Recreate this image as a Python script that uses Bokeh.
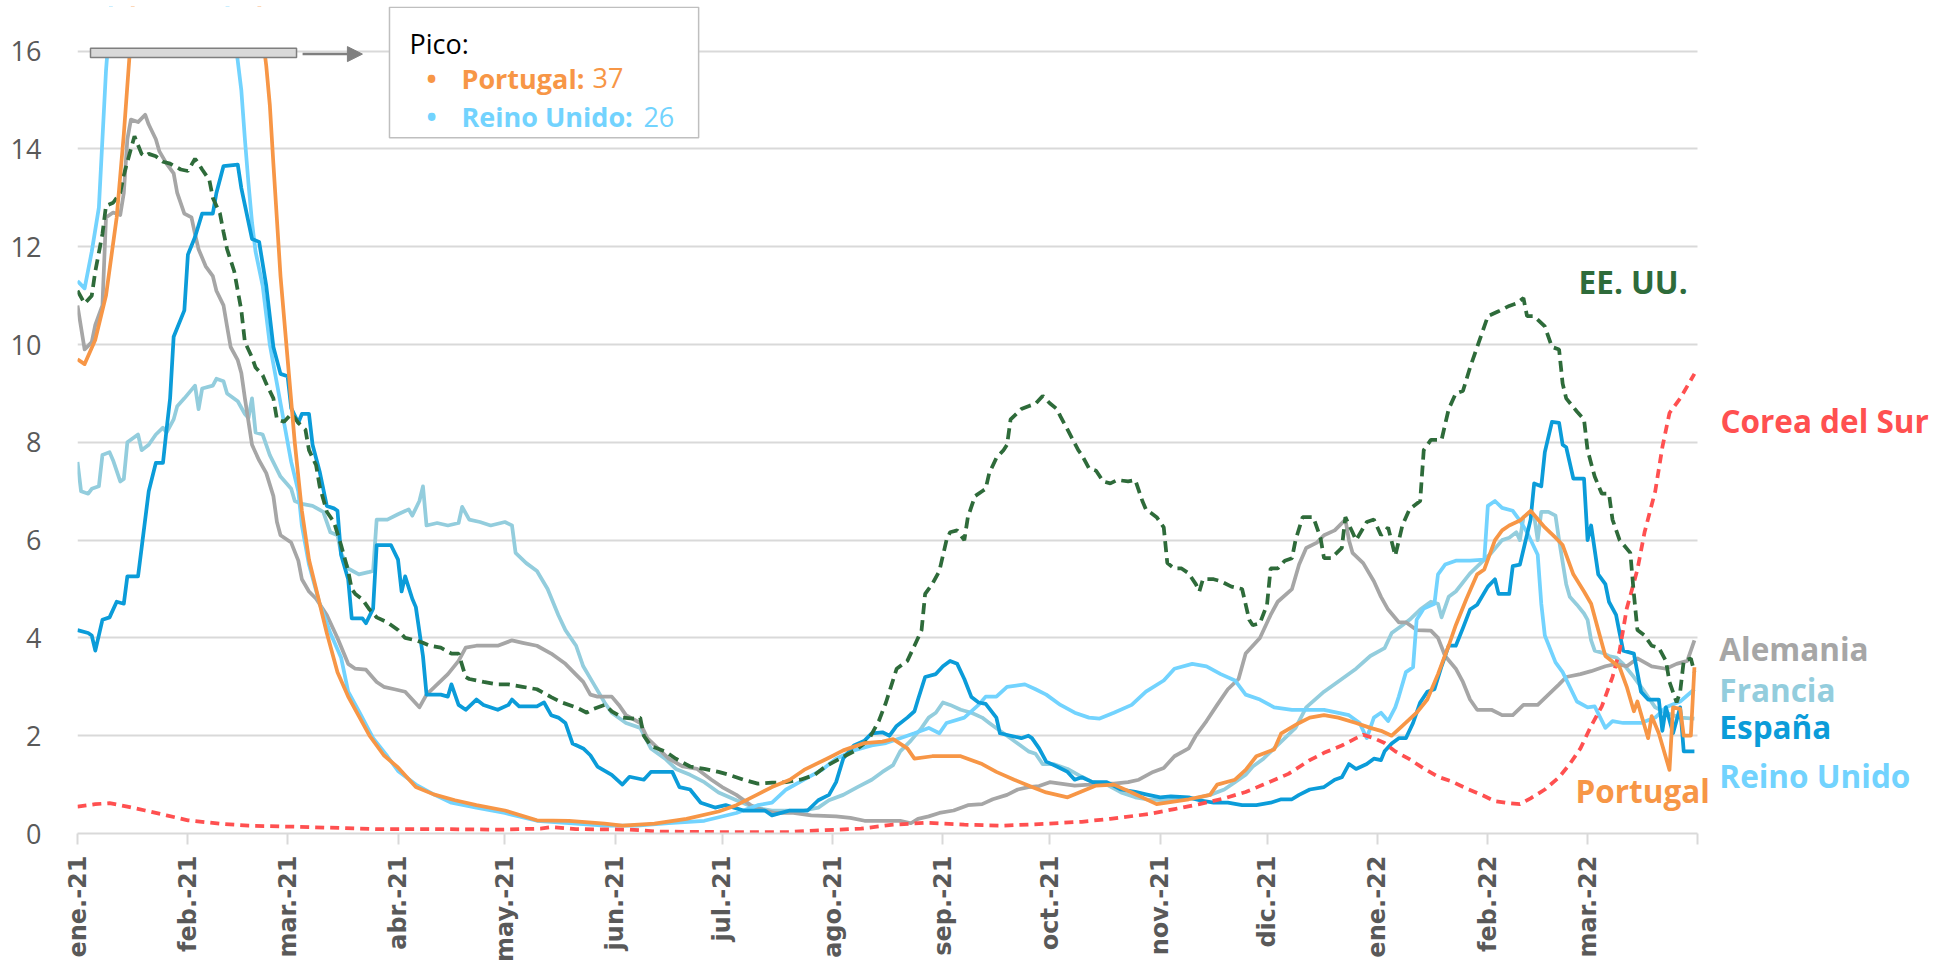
import pandas as pd
from math import pi
from bokeh.plotting import figure
from bokeh.models import Range1d, FixedTicker, Label, BoxAnnotation, Arrow, NormalHead
from bokeh.embed import file_html
from bokeh.resources import INLINE

# ---- data: (days since 1 Jan 2021, deaths per million, 7-day avg) ----
DAY0 = "2021-01-01"

portugal = [(0,9.7),(2,9.6),(5,10.1),(8,11.0),(11,12.6),(13,14.3),(15,16.3),(18,20),(21,26),(25,33),(28,37),(32,35),(36,31),(40,26),(45,21),(50,17.6),(52,16.3),(53,15.7),(54,14.9),(55,13.7),(57,11.4),(59,9.7),(61,8.0),(63,6.6),(65,5.6),(67,5.0),(70,4.1),(73,3.3),(76,2.8),(79,2.4),(82,2.0),(86,1.6),(90,1.35),(95,0.95),(100,0.8),(106,0.68),(112,0.58),(120,0.47),(129,0.27),(138,0.26),(148,0.2),(153,0.16),(162,0.2),(171,0.3),(180,0.45),(185,0.58),(191,0.8),(195,0.95),(200,1.1),(204,1.3),(211,1.55),(215,1.7),(221,1.85),(226,1.88),(229,1.93),(233,1.74),(235,1.53),(240,1.58),(248,1.58),(254,1.42),(258,1.26),(263,1.1),(268,0.95),(272,0.84),(278,0.74),(286,0.98),(291,1.0),(296,0.84),(303,0.6),(312,0.7),(318,0.79),(320,1.0),(325,1.1),(328,1.3),(331,1.58),(336,1.72),(338,2.05),(343,2.26),(346,2.37),(350,2.42),(354,2.37),(359,2.26),(363,2.16),(366,2.1),(369,2.0),(372,2.2),(376,2.47),(379,2.74),(382,3.26),(385,3.84),(387,4.26),(390,4.8),(393,5.3),(395,5.4),(398,6.0),(400,6.2),(402,6.3),(405,6.4),(408,6.6),(412,6.26),(415,6.05),(417,5.9),(420,5.3),(423,4.95),(425,4.7),(427,4.16),(429,3.63),(433,3.4),(435,3.0),(437,2.5),(438,2.7),(441,1.95),(442,2.4),(444,2.05),(447,1.3),(448,2.58),(450,2.55),(451,2.0),(453,2.0),(454,3.4)]

reino_unido = [(0,11.3),(2,11.15),(4,11.9),(6,12.8),(7,14.2),(8,15.6),(10,17.5),(14,22),(18,26),(21,25.5),(25,23.5),(30,21),(35,19),(40,17.5),(44,16.4),(46,15.2),(47,14.2),(48,13.3),(49,12.5),(50,11.9),(52,11.2),(54,10.0),(56,9.2),(58,8.4),(60,7.6),(62,7.0),(63,6.3),(65,5.5),(68,4.7),(71,4.1),(74,3.6),(76,2.9),(79,2.5),(83,1.95),(87,1.58),(90,1.28),(95,1.0),(100,0.8),(105,0.63),(112,0.53),(120,0.42),(129,0.26),(138,0.21),(148,0.16),(157,0.16),(166,0.21),(176,0.26),(185,0.42),(191,0.58),(195,0.63),(199,0.9),(204,1.1),(209,1.3),(213,1.53),(218,1.7),(223,1.8),(227,1.85),(231,1.95),(235,2.05),(239,2.16),(242,2.05),(244,2.26),(249,2.37),(253,2.63),(255,2.8),(258,2.8),(261,3.0),(266,3.05),(269,2.95),(272,2.84),(276,2.63),(280,2.47),(284,2.37),(287,2.35),(291,2.47),(296,2.63),(300,2.9),(305,3.13),(308,3.37),(313,3.47),(317,3.42),(321,3.26),(325,3.13),(328,2.84),(332,2.74),(336,2.58),(341,2.53),(350,2.53),(357,2.42),(360,2.26),(362,1.95),(364,2.37),(366,2.47),(368,2.3),(370,2.58),(371,2.8),(373,3.3),(375,3.4),(376,4.37),(378,4.6),(381,4.7),(382,5.3),(384,5.5),(387,5.58),(391,5.58),(395,5.6),(396,6.7),(398,6.8),(400,6.66),(403,6.6),(405,6.4),(407,6.16),(410,5.7),(411,4.7),(412,4.05),(415,3.5),(417,3.3),(421,2.7),(424,2.58),(426,2.6),(429,2.16),(431,2.3),(434,2.26),(439,2.26),(443,2.37),(446,2.58),(450,2.7),(454,2.95)]

espana = [(0,4.16),(3,4.1),(4,4.05),(5,3.74),(7,4.37),(9,4.42),(11,4.74),(13,4.7),(14,5.26),(17,5.26),(18,5.84),(20,7.0),(22,7.58),(24,7.58),(25,8.26),(26,8.9),(27,10.16),(30,10.7),(31,11.84),(33,12.2),(35,12.68),(38,12.68),(39,13.1),(41,13.65),(45,13.68),(46,13.2),(49,12.16),(51,12.1),(53,11.2),(55,9.95),(57,9.4),(59,9.35),(60,8.7),(62,8.4),(63,8.58),(65,8.58),(66,7.95),(68,7.4),(70,6.7),(72,6.65),(73,6.6),(74,5.7),(76,5.2),(77,4.4),(80,4.4),(81,4.3),(83,4.6),(84,5.9),(88,5.9),(90,5.6),(91,4.95),(92,5.26),(94,4.8),(95,4.63),(97,3.63),(98,2.84),(102,2.84),(104,2.8),(105,3.05),(107,2.63),(109,2.53),(112,2.74),(114,2.63),(118,2.53),(121,2.63),(122,2.74),(124,2.6),(129,2.6),(131,2.68),(133,2.42),(135,2.37),(137,2.26),(139,1.84),(142,1.74),(144,1.6),(146,1.37),(150,1.2),(153,1.0),(155,1.16),(159,1.1),(161,1.26),(167,1.26),(169,0.95),(172,0.9),(175,0.63),(179,0.53),(182,0.58),(187,0.47),(193,0.47),(195,0.37),(200,0.47),(205,0.47),(208,0.68),(211,0.79),(213,1.05),(215,1.53),(218,1.8),(221,1.9),(223,2.05),(226,2.07),(228,2.0),(230,2.2),(233,2.37),(235,2.5),(236,2.74),(238,3.2),(241,3.26),(243,3.42),(245,3.53),(247,3.47),(249,3.16),(251,2.79),(253,2.68),(255,2.65),(258,2.37),(259,2.05),(262,2.0),(265,1.95),(267,2.0),(268,1.95),(270,1.74),(272,1.47),(275,1.37),(278,1.26),(280,1.1),(282,1.15),(285,1.05),(289,1.05),(293,0.9),(297,0.85),(300,0.8),(304,0.74),(307,0.76),(312,0.74),(315,0.68),(319,0.63),(323,0.63),(327,0.58),(331,0.58),(335,0.63),(338,0.7),(341,0.7),(343,0.79),(346,0.9),(350,0.95),(353,1.1),(355,1.15),(357,1.42),(359,1.32),(362,1.42),(364,1.53),(366,1.5),(367,1.68),(369,1.84),(371,1.95),(373,1.95),(375,2.26),(377,2.68),(379,2.9),(381,2.95),(383,3.42),(385,3.84),(387,3.84),(389,4.2),(391,4.58),(393,4.68),(396,5.05),(398,5.2),(399,4.9),(402,4.9),(403,5.47),(405,5.5),(408,6.42),(409,7.16),(411,7.1),(412,7.8),(414,8.42),(416,8.4),(417,7.95),(418,7.9),(420,7.26),(423,7.26),(424,6.0),(425,6.3),(427,5.3),(429,5.1),(430,4.74),(432,4.47),(433,4.1),(434,3.74),(437,3.68),(439,2.9),(441,2.74),(444,2.74),(445,2.1),(446,2.58),(448,2.05),(450,2.58),(451,1.68),(454,1.68)]

francia = [(0,7.6),(1,7.0),(3,6.95),(4,7.05),(6,7.1),(7,7.74),(9,7.8),(10,7.63),(12,7.2),(13,7.25),(14,8.0),(17,8.16),(18,7.84),(20,7.95),(22,8.16),(24,8.3),(25,8.2),(27,8.47),(28,8.74),(30,8.9),(33,9.16),(34,8.68),(35,9.1),(38,9.16),(39,9.3),(41,9.25),(42,9.0),(45,8.84),(47,8.58),(48,8.5),(49,8.9),(50,8.2),(52,8.16),(54,7.74),(57,7.3),(60,7.05),(61,6.8),(63,6.74),(66,6.7),(69,6.58),(71,6.16),(73,6.1),(74,5.74),(76,5.42),(79,5.3),(82,5.35),(83,5.37),(84,6.42),(87,6.42),(90,6.53),(93,6.63),(94,6.5),(96,6.8),(97,7.1),(98,6.3),(101,6.35),(104,6.3),(107,6.35),(108,6.68),(110,6.42),(113,6.37),(116,6.3),(120,6.37),(122,6.3),(123,5.74),(126,5.53),(129,5.37),(132,5.0),(135,4.47),(137,4.16),(140,3.84),(142,3.42),(145,3.05),(148,2.68),(150,2.47),(154,2.26),(158,2.16),(161,1.74),(165,1.53),(168,1.32),(172,1.2),(176,1.05),(180,0.84),(185,0.68),(190,0.53),(195,0.47),(200,0.47),(204,0.47),(208,0.53),(211,0.68),(215,0.79),(219,0.95),(223,1.1),(226,1.26),(229,1.4),(231,1.68),(234,1.9),(237,2.16),(239,2.37),(241,2.47),(243,2.68),(245,2.63),(248,2.53),(251,2.47),(254,2.37),(256,2.26),(259,2.1),(261,2.0),(264,1.84),(267,1.68),(269,1.63),(271,1.42),(274,1.42),(278,1.32),(282,1.16),(285,1.05),(289,1.0),(293,0.84),(297,0.74),(300,0.7),(305,0.68),(310,0.7),(314,0.72),(318,0.79),(322,0.9),(325,1.05),(328,1.2),(330,1.37),(333,1.53),(336,1.74),(339,1.95),(342,2.16),(345,2.58),(350,2.9),(355,3.16),(359,3.37),(363,3.63),(367,3.79),(369,4.1),(372,4.26),(374,4.37),(377,4.58),(380,4.74),(382,4.7),(383,4.42),(385,4.84),(387,4.95),(391,5.32),(394,5.53),(397,5.74),(400,6.0),(402,6.05),(404,6.16),(405,6.0),(406,6.47),(408,6.58),(409,6.5),(410,6.0),(411,6.58),(413,6.58),(415,6.5),(416,6.0),(418,5.1),(419,4.84),(421,4.68),(423,4.5),(424,4.37),(425,3.95),(426,3.74),(428,3.7),(430,3.63),(432,3.6),(434,3.47),(437,3.2),(440,2.9),(443,2.58),(446,2.47),(450,2.37),(454,2.35)]

alemania = [(0,10.8),(2,9.9),(4,10.05),(5,10.4),(7,10.8),(8,12.6),(10,12.7),(12,12.65),(13,13.1),(14,14.2),(15,14.6),(17,14.55),(19,14.7),(20,14.5),(22,14.2),(23,13.95),(25,13.7),(27,13.5),(28,13.1),(30,12.68),(32,12.6),(33,12.26),(34,11.95),(36,11.6),(38,11.4),(39,11.1),(41,10.8),(42,10.37),(43,9.95),(45,9.68),(46,9.42),(47,8.9),(49,7.95),(51,7.63),(53,7.37),(55,6.9),(56,6.37),(57,6.1),(60,5.95),(62,5.58),(63,5.2),(65,4.95),(67,4.8),(70,4.47),(73,4.0),(76,3.47),(78,3.37),(81,3.35),(84,3.1),(86,3.0),(89,2.95),(92,2.9),(94,2.74),(96,2.58),(98,2.84),(101,3.05),(104,3.26),(107,3.53),(109,3.8),(112,3.84),(114,3.84),(118,3.84),(122,3.95),(125,3.9),(129,3.84),(133,3.68),(137,3.47),(139,3.32),(142,3.1),(144,2.84),(146,2.8),(150,2.8),(152,2.63),(154,2.42),(158,2.26),(160,1.95),(163,1.74),(166,1.53),(170,1.37),(174,1.32),(178,1.1),(181,0.95),(185,0.79),(189,0.58),(193,0.47),(196,0.42),(201,0.42),(206,0.37),(213,0.35),(217,0.32),(221,0.26),(225,0.26),(231,0.26),(234,0.21),(236,0.3),(239,0.35),(242,0.42),(246,0.47),(250,0.58),(254,0.6),(257,0.7),(261,0.79),(264,0.9),(267,0.95),(270,0.97),(273,1.05),(276,1.02),(280,0.98),(284,1.0),(287,1.02),(291,1.02),(295,1.05),(298,1.1),(302,1.26),(305,1.34),(308,1.58),(312,1.74),(314,2.0),(317,2.3),(320,2.63),(323,2.95),(326,3.16),(328,3.68),(332,4.0),(335,4.47),(337,4.74),(341,5.0),(343,5.5),(345,5.84),(348,5.95),(350,6.1),(353,6.2),(356,6.42),(357,6.0),(358,5.74),(361,5.53),(364,5.16),(366,4.84),(368,4.58),(371,4.32),(373,4.32),(376,4.16),(380,4.15),(382,4.0),(384,3.63),(387,3.37),(389,3.1),(391,2.74),(393,2.53),(397,2.53),(400,2.42),(403,2.42),(406,2.63),(410,2.63),(413,2.84),(416,3.05),(418,3.2),(422,3.26),(425,3.32),(429,3.42),(432,3.47),(435,3.42),(438,3.58),(442,3.42),(446,3.37),(449,3.47),(452,3.53),(454,3.95)]

ee_uu = [(0,11.1),(2,10.84),(4,11.0),(5,11.5),(7,12.26),(8,12.84),(10,12.9),(12,13.1),(13,13.47),(15,14.0),(16,14.26),(18,13.9),(19,13.85),(20,13.9),(22,13.85),(24,13.74),(26,13.7),(29,13.58),(31,13.55),(33,13.8),(34,13.7),(35,13.58),(37,13.37),(38,13.0),(40,12.68),(41,12.3),(42,11.95),(44,11.5),(45,11.1),(46,10.7),(47,10.05),(49,9.74),(50,9.53),(52,9.37),(53,9.2),(55,8.9),(56,8.47),(58,8.42),(60,8.58),(61,8.5),(62,8.4),(64,8.26),(65,7.84),(67,7.53),(68,7.1),(70,6.58),(72,6.37),(74,5.9),(76,5.37),(77,5.0),(78,4.9),(80,4.79),(82,4.58),(84,4.42),(87,4.32),(90,4.16),(92,4.0),(95,3.95),(97,3.9),(99,3.84),(102,3.8),(105,3.68),(107,3.68),(109,3.2),(110,3.16),(114,3.1),(118,3.05),(121,3.05),(125,3.0),(129,2.95),(133,2.79),(136,2.68),(140,2.58),(143,2.47),(145,2.55),(148,2.63),(150,2.5),(153,2.37),(156,2.35),(158,2.37),(159,2.0),(161,1.79),(165,1.68),(168,1.53),(172,1.37),(176,1.32),(180,1.26),(183,1.2),(187,1.1),(191,1.02),(195,1.04),(199,1.05),(203,1.1),(207,1.2),(210,1.37),(214,1.53),(218,1.68),(222,1.9),(225,2.3),(227,2.68),(230,3.37),(233,3.53),(235,3.84),(237,4.16),(238,4.9),(240,5.1),(242,5.37),(244,6.0),(245,6.16),(247,6.2),(249,6.0),(250,6.47),(252,6.9),(254,7.0),(255,7.05),(256,7.37),(258,7.68),(260,7.84),(261,7.95),(262,8.47),(265,8.68),(267,8.74),(269,8.79),(271,8.95),(273,8.8),(275,8.68),(276,8.53),(278,8.26),(281,7.84),(282,7.74),(284,7.47),(286,7.42),(288,7.2),(290,7.16),(292,7.23),(295,7.2),(297,7.23),(299,6.8),(300,6.63),(303,6.47),(305,6.26),(306,5.53),(308,5.42),(310,5.42),(312,5.32),(314,5.1),(315,4.95),(316,5.2),(319,5.2),(321,5.16),(324,5.05),(327,5.0),(329,4.37),(330,4.26),(332,4.3),(334,4.68),(335,5.42),(337,5.42),(339,5.58),(341,5.63),(342,6.0),(344,6.47),(347,6.47),(349,6.05),(350,5.63),(352,5.63),(355,5.84),(356,6.47),(358,6.16),(359,6.0),(362,6.37),(364,6.42),(366,6.1),(368,6.26),(370,5.68),(372,6.3),(374,6.63),(377,6.8),(378,7.84),(380,8.05),(383,8.05),(385,8.68),(387,9.0),(389,9.05),(391,9.53),(393,9.95),(396,10.58),(399,10.68),(402,10.79),(404,10.84),(406,10.95),(407,10.58),(409,10.58),(412,10.37),(414,9.95),(416,9.9),(417,9.2),(418,8.9),(421,8.63),(423,8.47),(424,7.84),(426,7.3),(428,6.95),(430,6.95),(431,6.42),(433,6.0),(436,5.74),(437,4.9),(438,4.16),(440,4.05),(442,3.84),(444,3.8),(446,3.53),(447,3.1),(449,2.68),(450,2.9),(451,3.53),(453,3.58),(454,3.3)]

corea_del_sur = [(0,0.55),(5,0.6),(9,0.62),(14,0.55),(19,0.47),(25,0.37),(31,0.27),(40,0.2),(48,0.16),(60,0.14),(70,0.12),(84,0.09),(100,0.09),(119,0.08),(130,0.1),(133,0.13),(140,0.09),(155,0.08),(163,0.04),(180,0.03),(200,0.03),(207,0.06),(220,0.1),(229,0.18),(238,0.22),(249,0.18),(260,0.16),(272,0.2),(282,0.24),(290,0.3),(301,0.4),(308,0.5),(315,0.6),(322,0.72),(328,0.85),(333,1.0),(340,1.22),(346,1.5),(350,1.65),(355,1.8),(359,1.95),(361,2.02),(364,1.95),(367,1.85),(370,1.68),(374,1.52),(378,1.33),(382,1.16),(386,1.06),(390,0.92),(394,0.8),(398,0.66),(402,0.62),(405,0.6),(408,0.72),(412,0.9),(416,1.15),(419,1.42),(422,1.74),(425,2.2),(428,2.6),(431,3.2),(433,3.74),(435,4.6),(438,5.4),(440,6.16),(443,7.0),(445,7.9),(447,8.6),(450,8.9),(452,9.15),(454,9.4)]

month_labels = ["ene.-21", "feb.-21", "mar.-21", "abr.-21", "may.-21", "jun.-21",
                "jul.-21", "ago.-21", "sep.-21", "oct.-21", "nov.-21", "dic.-21",
                "ene.-22", "feb.-22", "mar.-22", ""]
y_ticks = [0, 2, 4, 6, 8, 10, 12, 14, 16]

peak_notes = [("Portugal", "37"), ("Reino Unido", "26")]

# ---- helpers ----
T0 = pd.Timestamp(DAY0)

def ms(day):
    return (T0 + pd.Timedelta(days=day)).value / 1e6

def xy(series):
    return [ms(d) for d, _ in series], [v for _, v in series]

C_PT = "#F79646"
C_UK = "#72D3FE"
C_ES = "#0B9CD9"
C_FR = "#93CDDD"
C_DE = "#A6A6A6"
C_US = "#2E6B3A"
C_KR = "#FF5050"
GRID = "#D9D9D9"
TXT = "#595959"
FONT = "Open Sans"

X_END = 524.5
AXIS_END = 455
Y_TOP = 16.914

p = figure(width=1945, height=964, x_axis_type="datetime",
           output_backend="svg", toolbar_location=None,
           x_range=Range1d(ms(0), ms(X_END)), y_range=Range1d(0, Y_TOP),
           min_border_left=77, min_border_right=0, min_border_top=6,
           min_border_bottom=126)
p.outline_line_color = None
p.background_fill_color = "white"
p.border_fill_color = "white"

# grid
p.xgrid.visible = False
g = p.ygrid[0]
g.ticker = FixedTicker(ticks=y_ticks)
g.grid_line_color = GRID
g.grid_line_width = 2
use_seg = False
try:
    g.cross_bounds = (ms(0), ms(AXIS_END))
except Exception:
    use_seg = True
if use_seg:
    g.visible = False
    p.segment(x0=[ms(0)] * len(y_ticks), x1=[ms(AXIS_END)] * len(y_ticks),
              y0=y_ticks, y1=y_ticks, line_color=GRID, line_width=2)

# y axis
ya = p.yaxis[0]
ya.ticker = FixedTicker(ticks=y_ticks)
ya.axis_line_color = None
ya.major_tick_line_color = None
ya.minor_tick_line_color = None
ya.major_label_text_font = FONT
ya.major_label_text_font_size = "27px"
ya.major_label_text_color = TXT
ya.major_label_standoff = 30

# x axis
month_ms = [ts.value / 1e6 for ts in pd.date_range("2021-01-01", "2022-04-01", freq="MS")]
xa = p.xaxis[0]
xa.ticker = FixedTicker(ticks=month_ms)
xa.major_label_overrides = {t: lab for t, lab in zip(month_ms, month_labels)}
xa.major_label_orientation = pi / 2
xa.bounds = (ms(0), ms(AXIS_END))
xa.axis_line_color = GRID
xa.axis_line_width = 2
xa.major_tick_line_color = GRID
xa.major_tick_line_width = 2
xa.major_tick_out = 11
xa.major_tick_in = 0
xa.minor_tick_line_color = None
xa.major_label_text_font = "DejaVu Sans"
xa.major_label_text_font_style = "bold"
xa.major_label_text_font_size = "24px"
xa.major_label_text_color = TXT
xa.major_label_standoff = 11

# lines
LW = 3.75
for series, color in [(francia, C_FR), (alemania, C_DE), (reino_unido, C_UK), (espana, C_ES)]:
    x, y = xy(series)
    p.line(x, y, line_color=color, line_width=LW, line_join="round")
x, y = xy(corea_del_sur)
p.line(x, y, line_color=C_KR, line_width=LW, line_dash="9 6")
x, y = xy(ee_uu)
p.line(x, y, line_color=C_US, line_width=LW, line_dash="11 6")
x, y = xy(portugal)
p.line(x, y, line_color=C_PT, line_width=LW, line_join="round")

# cut-off bar at 16 (values above are hidden)
BAR_L, BAR_R = 3.65, 61.5
p.add_layout(BoxAnnotation(left=ms(BAR_L), right=ms(BAR_R), bottom=16.06, top=Y_TOP,
                           fill_color="white", fill_alpha=1, line_color="white",
                           line_alpha=0))
p.add_layout(BoxAnnotation(left=ms(BAR_L), right=ms(BAR_R), bottom=15.87, top=16.06,
                           fill_color="#D9D9D9", fill_alpha=1, line_color="#7F7F7F",
                           line_width=1.5, line_alpha=1))
p.add_layout(Arrow(x_start=ms(63.2), y_start=15.94, x_end=ms(80.0), y_end=15.94,
                   line_color="#7F7F7F", line_width=2.5,
                   end=NormalHead(size=15, fill_color="#7F7F7F", line_color="#7F7F7F")))

# peak box
p.add_layout(BoxAnnotation(left=ms(87.6), right=ms(174.4), bottom=14.23, top=16.9,
                           fill_color="white", fill_alpha=1, line_color="#BFBFBF",
                           line_width=1.5, line_alpha=1))

def lab(day, yv, text, color, size, bold=False, align="left"):
    p.add_layout(Label(x=ms(day), y=yv, text=text, text_color=color,
                       text_font=FONT, text_font_size=size,
                       text_font_style="bold" if bold else "normal",
                       text_align=align, text_baseline="alphabetic"))

lab(93.2, 16.16, "Pico:", "#000000", "27px")
rows = [(15.45, C_PT, 144.6), (14.66, C_UK, 158.9)]
for (name, val), (yb, col, xv) in zip(peak_notes, rows):
    lab(99.4, yb, "\u2022", col, "27px", bold=True, align="center")
    lab(107.8, yb, name + ":", col, "27px", bold=True)
    lab(xv, yb, val, col, "27px")

# series labels
lab(452.1, 11.28, "EE. UU.", C_US, "31.5px", bold=True, align="right")
lab(461.3, 8.44, "Corea del Sur", C_KR, "31.5px", bold=True)
lab(461.0, 3.78, "Alemania", C_DE, "31.5px", bold=True)
lab(461.0, 2.95, "Francia", C_FR, "31.5px", bold=True)
lab(461.0, 2.18, "España", C_ES, "31.5px", bold=True)
lab(461.0, 1.18, "Reino Unido", C_UK, "31.5px", bold=True)
lab(420.6, 0.87, "Portugal", C_PT, "31.5px", bold=True)

open("out.html", "w").write(file_html(p, INLINE))
